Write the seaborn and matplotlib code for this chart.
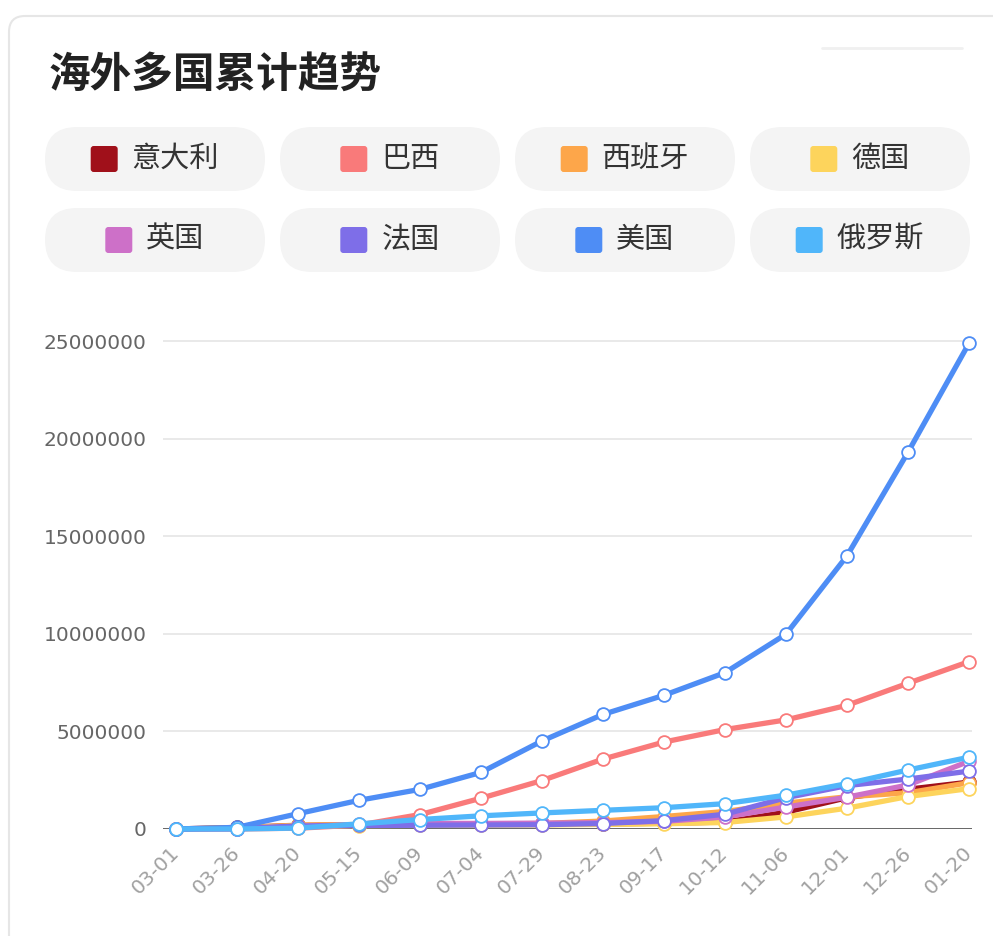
import matplotlib
matplotlib.use("Agg")
import matplotlib.pyplot as plt
from matplotlib.patches import FancyBboxPatch
import numpy as np
import pandas as pd
import seaborn as sns

# ---- data -------------------------------------------------------------
dates = ["03-01", "03-26", "04-20", "05-15", "06-09", "07-04", "07-29",
         "08-23", "09-17", "10-12", "11-06", "12-01", "12-26", "01-20"]

countries = ["意大利", "巴西", "西班牙", "德国", "英国", "法国", "美国", "俄罗斯"]
colors = ["#a0101a", "#f97a7a", "#fda64a", "#fdd45c",
          "#cd70c8", "#7e6ee8", "#4e8df5", "#50b6fa"]

italy   = [1700, 80500, 181000, 223000, 235500, 241400, 246500, 259300, 294900, 354900, 862700, 1601500, 2038400, 2400600]
brazil  = [2, 2900, 40600, 203200, 739500, 1577000, 2483200, 3582400, 4455400, 5094900, 5590000, 6336300, 7465800, 8573900]
spain   = [84, 56200, 200200, 230200, 241700, 250500, 282600, 407900, 640000, 896000, 1328800, 1648200, 1854900, 2370700]
germany = [130, 43900, 147000, 175200, 186500, 196900, 207700, 234500, 268800, 332800, 619000, 1067500, 1664700, 2068000]
uk      = [36, 11700, 124700, 233200, 289100, 284900, 300700, 324600, 390400, 617700, 1123200, 1629700, 2256000, 3466800]
france  = [130, 25200, 155400, 179600, 191100, 204200, 221100, 281000, 428700, 756500, 1601400, 2222500, 2559700, 2965100]
usa     = [75, 83800, 784300, 1470000, 2030000, 2900000, 4510000, 5870000, 6850000, 8010000, 9980000, 13990000, 19300000, 24880000]
russia  = [0, 840, 47100, 262800, 485300, 674500, 823500, 956700, 1091200, 1298700, 1733400, 2322100, 3021900, 3677400]

series = [italy, brazil, spain, germany, uk, france, usa, russia]

rows = []
for name, vals in zip(countries, series):
    for i, (d, v) in enumerate(zip(dates, vals)):
        rows.append({"idx": i, "date": d, "country": name, "value": v})
df = pd.DataFrame(rows)

y_ticks = [0, 5000000, 10000000, 15000000, 20000000, 25000000]
title = "海外多国累计趋势"

# ---- figure -----------------------------------------------------------
W, H = 993, 936
sns.set_theme(style="white")
plt.rcParams["font.family"] = ["DejaVu Sans"]
cjk = ["Noto Sans CJK SC", "DejaVu Sans"]

fig = plt.figure(figsize=(W / 100, H / 100), dpi=100)
fig.patch.set_facecolor("white")

# overlay in pixel coordinates for the card, title and legend chips
ov = fig.add_axes([0, 0, 1, 1], zorder=0)
ov.set_xlim(0, W)
ov.set_ylim(H, 0)
ov.axis("off")

ov.add_patch(FancyBboxPatch((9, 16), W + 40, H + 40,
                            boxstyle="round,pad=0,rounding_size=16",
                            facecolor="white", edgecolor="#e6e6e6", lw=1.5))
ov.plot([822, 962], [48, 48], color="#f0f0f0", lw=2, solid_capstyle="round")

ov.text(49, 76, title, fontsize=30, fontweight="bold", color="#222222",
        family=cjk, ha="left", va="center")

pill_w, pill_h = 220, 64
col_x = [45, 280, 515, 750]
row_y = [127, 208]
char_w = 29.2
for k, (name, col) in enumerate(zip(countries, colors)):
    r, c = divmod(k, 4)
    x0, y0 = col_x[c], row_y[r]
    ov.add_patch(FancyBboxPatch((x0, y0), pill_w, pill_h,
                                boxstyle="round,pad=0,rounding_size=32",
                                facecolor="#f4f4f4", edgecolor="none"))
    group_w = 27 + 14 + char_w * len(name)
    gx = x0 + pill_w / 2 - group_w / 2
    cy = y0 + pill_h / 2
    ov.add_patch(FancyBboxPatch((gx, cy - 13), 27, 26,
                                boxstyle="round,pad=0,rounding_size=3",
                                facecolor=col, edgecolor="none"))
    ov.text(gx + 27 + 14, cy, name, fontsize=21, color="#333333",
            family=cjk, ha="left", va="center")

# ---- line chart -------------------------------------------------------
ax_left, ax_right = 163 / W, 972 / W
ax_bottom, ax_top = 1 - 829 / H, 1 - 321.5 / H
ax = fig.add_axes([ax_left, ax_bottom, ax_right - ax_left, ax_top - ax_bottom], zorder=1)
ax.patch.set_alpha(0)

sns.lineplot(data=df, x="idx", y="value", hue="country", hue_order=countries,
             palette=colors, linewidth=3.8, marker="o", markersize=9.2,
             markerfacecolor="white", markeredgewidth=1.3, legend=False,
             ax=ax, clip_on=False)
for ln in ax.lines:
    ln.set_markeredgecolor(ln.get_color())
    ln.set_solid_capstyle("round")
    ln.set_solid_joinstyle("round")
    ln.set_zorder(3)

ax.set_xlim(-0.213, 13.05)
ax.set_ylim(0, 26000000)

for yv in y_ticks[1:]:
    ax.axhline(yv, color="#e3e3e3", lw=1.1, zorder=1)
ax.axhline(0, color="#666666", lw=1.4, zorder=2)

ax.set_yticks(y_ticks)
ax.set_yticklabels([str(v) for v in y_ticks], fontsize=14.5, color="#666666")
ax.set_xticks(range(len(dates)))
ax.set_xticklabels(dates, fontsize=14.5, color="#a0a0a0", rotation=45,
                   ha="right", va="center", rotation_mode="anchor")
ax.tick_params(axis="x", length=0, pad=15)
ax.tick_params(axis="y", length=0, pad=12)
ax.set_xlabel("")
ax.set_ylabel("")
for s in ax.spines.values():
    s.set_visible(False)
ax.grid(False)

fig.savefig("out.png", dpi=100, facecolor="white")
